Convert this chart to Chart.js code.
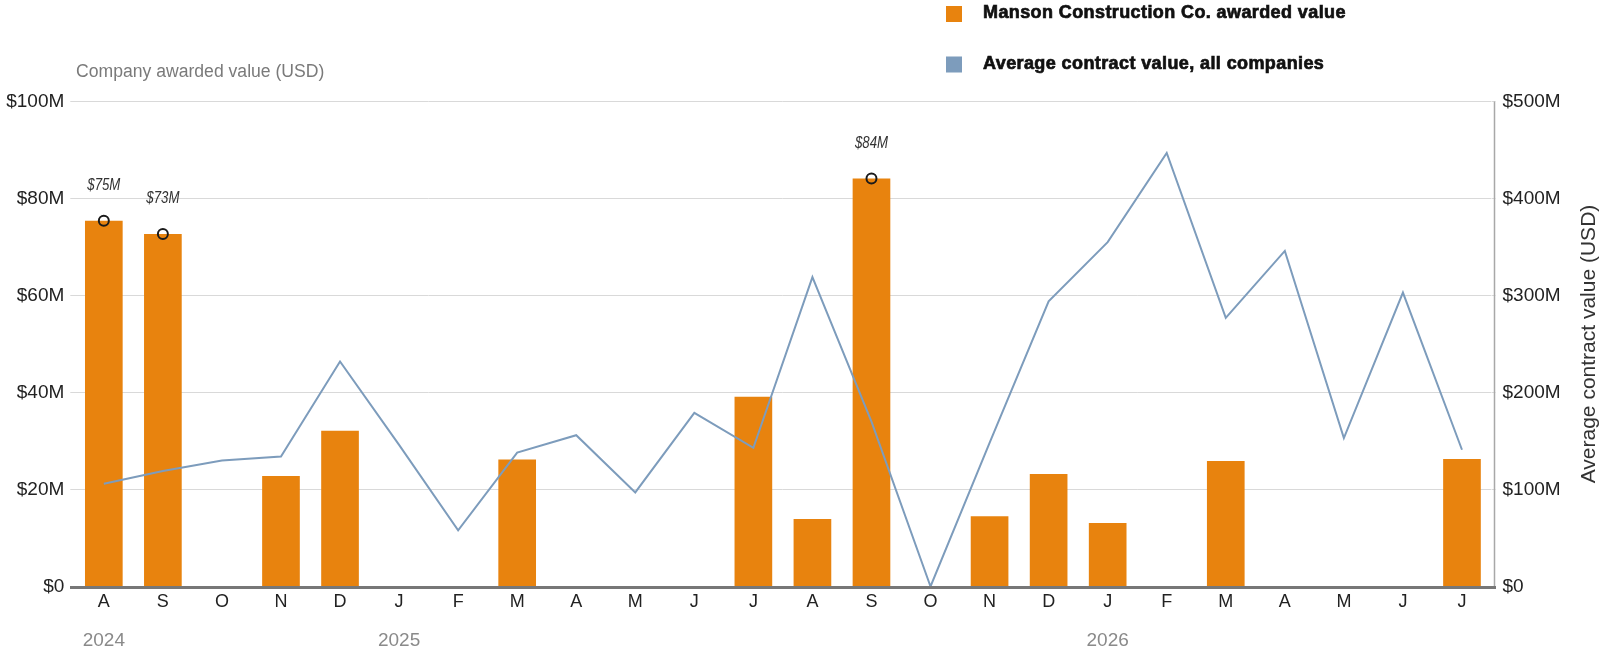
<!DOCTYPE html>
<html><head><meta charset="utf-8">
<script src="https://cdn.jsdelivr.net/npm/chart.js@4.4.1/dist/chart.umd.min.js"></script>
<style>
html,body{margin:0;padding:0;background:#fff;}
#wrap{position:relative;width:1605px;height:656px;}
</style></head><body>
<div id="wrap"><canvas id="c" width="1605" height="656"></canvas></div>
<script>
// ---- data ----
const months = ['A','S','O','N','D','J','F','M','A','M','J','J','A','S','O','N','D','J','F','M','A','M','J','J'];
const yearLabels = ['2024','','','','','2025','','','','','','','','','','','','2026','','','','','',''];
const mansonValues = [75.4,72.7,0,22.8,32.1,0,0,26.2,0,0,0,39.1,13.9,84.1,0,14.5,23.2,13.1,0,25.9,0,0,0,26.3];
const averageValues = [106,119,130,134,232,146,58,138,156,97,179,143,319,170,0,148,294,355,447,277,346,153,303,141];
const highlightIdx = [0,1,13];
const leftTicks = [0,20,40,60,80,100];
const rightTicks = [0,100,200,300,400,500];
const seriesNames = ['Manson Construction Co. awarded value','Average contract value, all companies'];
const leftTitle = 'Company awarded value (USD)';
const rightTitle = 'Average contract value (USD)';

const ORANGE = '#e8830e';
const BLUE = '#7d9cbc';
const FONT = '"Liberation Sans", Arial, sans-serif';

const markerData = mansonValues.map((v,i)=> highlightIdx.includes(i) ? v : null);
const fmt = v => v === 0 ? '$0' : '$' + v + 'M';

const extras = {
  id: 'extras',
  afterDraw(chart) {
    const ctx = chart.ctx, ca = chart.chartArea;
    const xs = chart.scales.x, ys = chart.scales.y;
    ctx.save();
    // right border
    ctx.strokeStyle = '#a8a8a8'; ctx.lineWidth = 1.5;
    ctx.beginPath(); ctx.moveTo(1494.5, ca.top); ctx.lineTo(1494.5, ca.bottom); ctx.stroke();
    // baseline
    ctx.strokeStyle = '#777777'; ctx.lineWidth = 3;
    ctx.beginPath(); ctx.moveTo(70, ca.bottom + 1); ctx.lineTo(1496, ca.bottom + 1); ctx.stroke();
    // annotations (condensed italic)
    ctx.fillStyle = '#333'; ctx.font = 'italic 16.5px ' + FONT;
    ctx.textAlign = 'center'; ctx.textBaseline = 'alphabetic';
    highlightIdx.forEach(i => {
      const v = mansonValues[i];
      const x = xs.getPixelForValue(i), y = ys.getPixelForValue(v) - 31;
      ctx.save();
      ctx.translate(x, y); ctx.scale(0.8, 1);
      ctx.fillText('$' + Math.round(v) + 'M', 0, 0);
      ctx.restore();
    });
    // year labels
    ctx.fillStyle = '#8a8a8a'; ctx.font = '19px ' + FONT;
    yearLabels.forEach((y,i) => { if (y) ctx.fillText(y, xs.getPixelForValue(i), 646); });
    // left title
    ctx.textAlign = 'left'; ctx.fillStyle = '#7a7a7a'; ctx.font = '17.6px ' + FONT;
    ctx.fillText(leftTitle, 76, 76.5);
    // right title
    ctx.save();
    ctx.translate(1589, (ca.top + ca.bottom) / 2);
    ctx.rotate(-Math.PI / 2);
    ctx.textAlign = 'center'; ctx.textBaseline = 'middle';
    ctx.fillStyle = '#333'; ctx.font = '21px ' + FONT;
    ctx.fillText(rightTitle, 0, 0);
    ctx.restore();
    // legend
    const ds = chart.data.datasets;
    [0,1].forEach((k, r) => {
      ctx.fillStyle = k === 0 ? ds[0].backgroundColor : ds[1].borderColor;
      ctx.fillRect(946, 6 + r * 50.5, 16, 16);
      ctx.fillStyle = '#111'; ctx.strokeStyle = '#111'; ctx.lineWidth = 0.7;
      ctx.font = 'bold 18px ' + FONT;
      ctx.letterSpacing = '0.4px';
      ctx.textAlign = 'left'; ctx.textBaseline = 'alphabetic';
      ctx.fillText(ds[k].label, 983, 17.5 + r * 51);
      ctx.strokeText(ds[k].label, 983, 17.5 + r * 51);
      ctx.letterSpacing = '0px';
    });
    ctx.restore();
  }
};

new Chart(document.getElementById('c'), {
  data: {
    labels: months,
    datasets: [
      { type: 'bar', label: seriesNames[0], data: mansonValues, backgroundColor: ORANGE,
        yAxisID: 'y', order: 2, barPercentage: 0.638, categoryPercentage: 1.0 },
      { type: 'line', label: seriesNames[1], data: averageValues, borderColor: BLUE, borderWidth: 2,
        pointRadius: 0, tension: 0, yAxisID: 'y1', order: 1 },
      { type: 'line', label: 'markers', data: markerData, showLine: false, yAxisID: 'y', order: 0,
        pointRadius: 5, pointBorderWidth: 2, pointBorderColor: '#1a1a1a', pointBackgroundColor: 'rgba(0,0,0,0)' }
    ]
  },
  options: {
    responsive: false, animation: false, devicePixelRatio: 1,
    layout: { padding: { top: 101.5, left: 0, right: 0, bottom: 0 } },
    plugins: { legend: { display: false }, tooltip: { enabled: false } },
    scales: {
      x: {
        grid: { display: false, drawTicks: false }, border: { display: false },
        ticks: { color: '#222', font: { size: 18, family: FONT }, padding: 5, maxRotation: 0, autoSkip: false },
        afterFit: s => { s.height = 69.5; }
      },
      y: {
        position: 'left', min: 0, max: 100,
        afterBuildTicks: s => { s.ticks = leftTicks.map(v => ({ value: v })); },
        grid: { color: '#d9d9d9', lineWidth: 1, drawTicks: true, tickLength: 4, tickColor: '#d9d9d9' },
        border: { display: false },
        ticks: { color: '#222', font: { size: 19, family: FONT }, padding: 6, callback: fmt },
        afterFit: s => { s.width = 74.3; }
      },
      y1: {
        position: 'right', min: 0, max: 500,
        afterBuildTicks: s => { s.ticks = rightTicks.map(v => ({ value: v })); },
        grid: { drawOnChartArea: false, drawTicks: true, tickLength: 4, tickColor: '#d9d9d9' },
        border: { display: false },
        ticks: { color: '#222', font: { size: 19, family: FONT }, padding: 7, callback: fmt },
        afterFit: s => { s.width = 113.5; }
      }
    }
  },
  plugins: [extras]
});
</script>
</body></html>
